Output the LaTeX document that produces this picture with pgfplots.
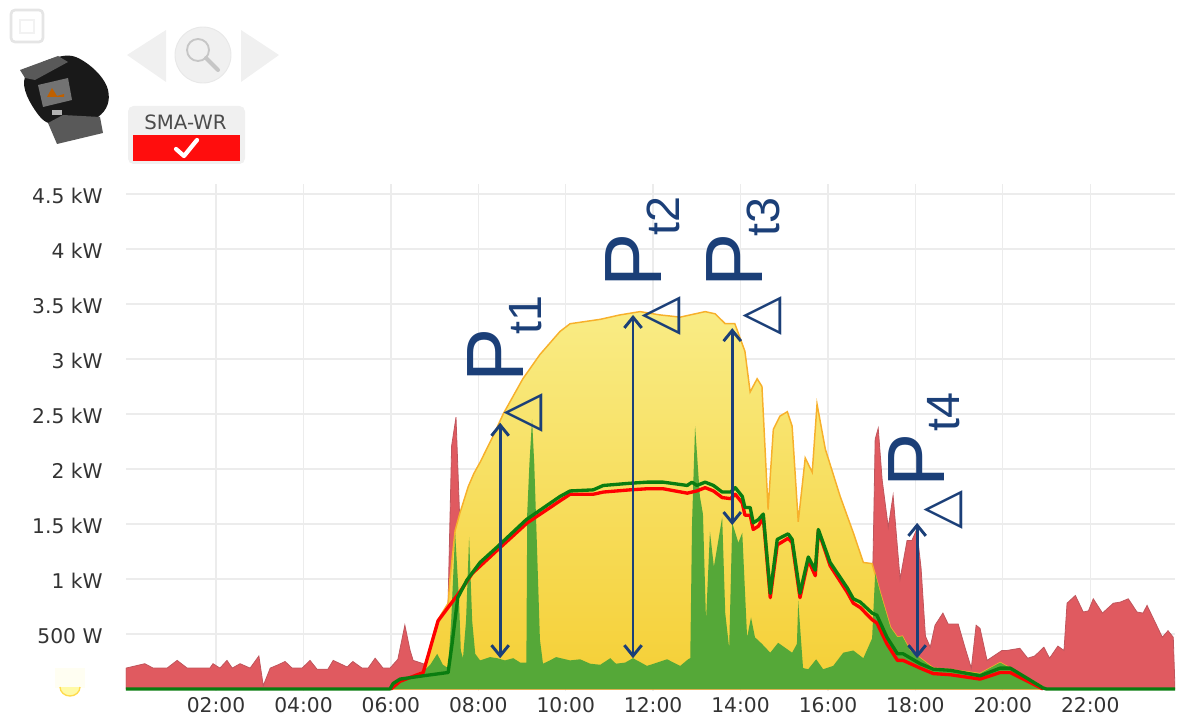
\documentclass[border=0pt]{standalone}
\usepackage{fontspec}
\usepackage{pgfplots}
\pgfplotsset{compat=1.18}
\usepackage{pgfplotstable}
\usetikzlibrary{arrows.meta}
\setmainfont{DejaVu Sans}
\newfontfamily\arialf{Liberation Sans}
\definecolor{navy}{HTML}{1B3F78}
\definecolor{gridc}{HTML}{ECECEC}
\definecolor{redarea}{HTML}{E05A60}
\definecolor{rededge}{HTML}{C0555C}
\definecolor{yellowtop}{HTML}{F9EC85}
\definecolor{yellowbot}{HTML}{F5CF35}
\definecolor{orangeline}{HTML}{F7B02B}
\definecolor{greenarea}{HTML}{55A838}
\definecolor{greenline}{HTML}{0A7D10}
\definecolor{ticktext}{HTML}{333333}

% consumption (kW)
\pgfplotstableread{
h kw
-0.06 0
-0.06 0.19
0.37 0.23
0.56 0.19
0.88 0.19
1.11 0.26
1.34 0.19
1.86 0.19
1.93 0.23
2.09 0.19
2.25 0.26
2.37 0.19
2.55 0.23
2.78 0.19
2.98 0.30
3.08 0.03
3.24 0.19
3.42 0.22
3.58 0.25
3.74 0.19
3.97 0.19
4.15 0.26
4.31 0.18
4.56 0.18
4.68 0.26
5.00 0.20
5.13 0.25
5.34 0.19
5.48 0.19
5.64 0.28
5.82 0.19
5.98 0.19
6.16 0.27
6.32 0.58
6.44 0.35
6.51 0.26
6.74 0.23
7.00 0.10
7.20 0.35
7.31 0.80
7.39 2.21
7.49 2.47
7.57 1.60
7.70 0.30
16.90 0.30
17.03 1.17
17.05 1.59
17.08 2.27
17.15 2.37
17.24 1.90
17.38 1.47
17.49 1.76
17.65 1.00
17.81 1.35
17.92 1.35
18.03 1.45
18.13 1.10
18.23 0.48
18.34 0.38
18.45 0.58
18.63 0.69
18.75 0.59
18.98 0.59
19.14 0.37
19.28 0.19
19.39 0.58
19.48 0.55
19.64 0.26
19.98 0.35
20.09 0.35
20.39 0.37
20.57 0.28
20.73 0.30
20.94 0.38
21.07 0.28
21.26 0.39
21.40 0.35
21.47 0.78
21.66 0.85
21.84 0.70
21.96 0.71
22.07 0.82
22.28 0.69
22.53 0.78
22.69 0.79
22.87 0.82
23.07 0.70
23.21 0.69
23.30 0.76
23.65 0.47
23.78 0.53
23.90 0.47
23.94 0
}\consumption

% production (kW)
\pgfplotstableread{
h kw
6.00 0
6.21 0.06
6.74 0.16
7.06 0.62
7.31 0.78
7.35 0.99
7.47 1.44
7.58 1.60
7.77 1.84
7.90 1.96
8.04 2.06
8.34 2.30
8.57 2.50
9.02 2.82
9.41 3.04
9.87 3.25
10.10 3.32
10.79 3.36
11.24 3.40
11.70 3.43
12.16 3.40
12.62 3.38
13.19 3.43
13.42 3.41
13.65 3.32
13.87 3.32
14.10 3.07
14.22 2.70
14.38 2.82
14.49 2.75
14.63 1.63
14.75 2.36
14.90 2.48
15.07 2.52
15.18 2.39
15.32 1.52
15.48 2.10
15.64 1.97
15.75 2.59
15.94 2.18
16.28 1.75
16.58 1.42
16.81 1.15
17.01 1.14
17.20 0.87
17.43 0.56
17.59 0.47
17.70 0.48
17.88 0.35
18.41 0.19
18.73 0.18
19.48 0.14
19.94 0.24
20.17 0.19
20.92 0.02
20.99 0
}\production

% self consumption (kW)
\pgfplotstableread{
h kw
6.00 0
6.21 0.06
6.74 0.16
6.90 0.22
7.06 0.32
7.19 0.22
7.31 0.19
7.38 0.62
7.47 1.42
7.56 0.80
7.60 0.35
7.65 0.28
7.72 0.62
7.79 1.38
7.86 0.62
7.93 0.32
8.04 0.26
8.27 0.29
8.43 0.28
8.61 0.26
8.80 0.28
8.96 0.24
9.10 0.24
9.12 1.60
9.17 2.05
9.23 2.45
9.28 2.05
9.33 1.45
9.41 0.45
9.48 0.23
9.64 0.26
9.78 0.29
10.10 0.26
10.33 0.27
10.56 0.23
10.79 0.22
11.02 0.28
11.15 0.23
11.36 0.24
11.54 0.28
11.86 0.21
12.32 0.27
12.62 0.21
12.80 0.27
12.85 0.28
12.89 1.50
12.96 2.39
13.07 1.75
13.14 1.59
13.21 0.62
13.30 1.43
13.39 1.11
13.58 1.56
13.65 0.69
13.74 0.37
13.81 1.51
13.95 1.33
14.04 1.42
14.10 0.90
14.15 0.47
14.24 0.65
14.33 0.47
14.49 0.41
14.68 0.33
14.86 0.42
15.18 0.33
15.29 0.41
15.32 0.80
15.39 0.41
15.43 0.19
15.55 0.18
15.73 0.27
15.89 0.18
16.12 0.21
16.35 0.33
16.58 0.35
16.81 0.28
17.01 0.46
17.08 1.05
17.20 0.87
17.43 0.56
17.59 0.47
17.70 0.48
17.88 0.35
18.41 0.19
18.73 0.18
19.48 0.14
19.94 0.24
20.17 0.19
20.92 0.02
20.99 0
}\selfuse

% green line (kW)
\pgfplotstableread{
h kw
-0.06 0
5.98 0
6.05 0.05
6.21 0.09
6.74 0.12
7.31 0.15
7.40 0.41
7.53 0.83
7.74 0.99
8.04 1.15
8.43 1.29
9.10 1.54
9.87 1.75
10.10 1.80
10.63 1.81
10.86 1.85
11.47 1.87
11.86 1.88
12.23 1.88
12.78 1.85
12.89 1.88
13.00 1.85
13.19 1.88
13.38 1.85
13.58 1.79
13.77 1.79
13.88 1.83
14.04 1.75
14.10 1.65
14.22 1.65
14.29 1.51
14.41 1.54
14.52 1.59
14.68 0.87
14.84 1.36
15.09 1.41
15.18 1.36
15.36 0.87
15.55 1.20
15.71 1.08
15.78 1.45
16.05 1.15
16.44 0.92
16.58 0.82
16.74 0.79
17.01 0.69
17.12 0.67
17.35 0.47
17.59 0.32
17.72 0.32
18.11 0.23
18.41 0.18
18.80 0.17
19.48 0.12
19.94 0.19
20.17 0.19
20.92 0.01
21.00 0
23.94 0
}\greenln

% red line (kW)
\pgfplotstableread{
h kw
6.00 0
6.21 0.07
6.74 0.15
6.90 0.37
7.08 0.62
7.61 0.90
7.86 1.05
8.43 1.26
9.12 1.51
9.87 1.71
10.10 1.77
10.63 1.77
10.86 1.79
11.47 1.81
11.86 1.82
12.23 1.82
12.78 1.78
13.00 1.80
13.19 1.83
13.38 1.80
13.58 1.74
13.77 1.73
13.88 1.77
14.04 1.69
14.10 1.58
14.22 1.58
14.29 1.45
14.41 1.48
14.52 1.56
14.68 0.83
14.84 1.31
15.09 1.37
15.18 1.33
15.36 0.83
15.55 1.17
15.71 1.03
15.78 1.44
16.05 1.12
16.44 0.88
16.58 0.78
16.74 0.74
17.01 0.63
17.12 0.60
17.35 0.41
17.59 0.26
17.72 0.26
18.11 0.19
18.41 0.14
18.80 0.13
19.48 0.09
19.94 0.15
20.17 0.15
20.92 0
}\redln

\tikzset{dbl/.style={navy, line width=2.2pt, {Straight Barb[length=8pt,width=13pt,line width=2.2pt]}-{Straight Barb[length=8pt,width=13pt,line width=2.2pt]}}}

\begin{document}
\begin{tikzpicture}
\path (0pt,0pt) rectangle (883.5pt,-540pt);
\begin{axis}[
  at={(94.5pt,-518.4pt)}, anchor=south west,
  scale only axis, width=786.75pt, height=380.4pt,
  xmin=-0.06, xmax=23.94, ymin=-0.02, ymax=4.59,
  axis line style={draw=none}, tick style={draw=none},
  xtick={2,4,...,22},
  xticklabels={02:00,04:00,06:00,08:00,10:00,12:00,14:00,16:00,18:00,20:00,22:00},
  ytick={0.5,1,1.5,2,2.5,3,3.5,4,4.5},
  yticklabels={500 W,1 kW,1.5 kW,2 kW,2.5 kW,3 kW,3.5 kW,4 kW,4.5 kW},
  grid=major, grid style={gridc, line width=1pt},
  xticklabel style={font=\fontsize{15.2}{18}\selectfont, text=ticktext, yshift=-1pt},
  yticklabel style={font=\fontsize{15.2}{18}\selectfont, text=ticktext, xshift=-14pt, yshift=-1.5pt},
]
\addplot[fill=redarea, draw=rededge, line width=0.6pt] table[x=h,y=kw] {\consumption} \closedcycle;
\addplot[top color=yellowtop, bottom color=yellowbot, draw=orangeline, line width=1.1pt] table[x=h,y=kw] {\production} \closedcycle;
\addplot[fill=greenarea, draw=none] table[x=h,y=kw] {\selfuse} \closedcycle;
\addplot[draw=red, line width=2.5pt, line join=round] table[x=h,y=kw] {\redln};
\addplot[draw=greenline, line width=2.5pt, line join=round] table[x=h,y=kw] {\greenln};
\draw[dbl] (axis cs:8.5,2.42) -- (axis cs:8.5,0.28);
\draw[dbl] (axis cs:11.54,3.40) -- (axis cs:11.54,0.28);
\draw[dbl] (axis cs:13.81,3.28) -- (axis cs:13.81,1.49);
\draw[dbl] (axis cs:18.04,1.51) -- (axis cs:18.04,0.28);
\end{axis}
\begin{scope}[x=0.75pt,y=-0.75pt]
% delta P labels
\def\dP#1#2#3#4#5#6#7{%
  \node[rotate=90,inner sep=0pt,text=navy,font=\arialf\fontsize{61}{61}\selectfont] at (#1,#2) {P};
  \node[rotate=90,inner sep=0pt,text=navy,font=\arialf\fontsize{35}{35}\selectfont] at (#3,#4) {#5};
  \node[rotate=90,inner sep=0pt,text=navy,font=\fontsize{38}{38}\selectfont] at (#6,#7) {△};
}
\dP{496}{355}{526}{315}{t1}{523}{413}
\dP{634}{260}{663}{216}{t2}{661}{316}
\dP{735}{260}{763}{217}{t3}{762}{316}
\dP{917}{460}{944}{412}{t4}{943}{510}
% top-left square
\draw[draw=gray!20, line width=2pt, rounded corners=3pt, fill=white] (11,10) rectangle (43,42);
\draw[draw=gray!10, line width=1pt] (20,20) rectangle (34,33);
% device
\fill[black!90] plot[smooth cycle, tension=0.7] coordinates {(25,77) (58,57) (85,62) (108,90) (98,117) (60,125) (37,113)};
\fill[black!65] (20,70) -- (58,56) -- (68,62) -- (35,80) -- (25,78) -- cycle;
\fill[black!65] (48,123) -- (63,115) -- (100,117) -- (103,133) -- (57,144) -- cycle;
\fill[black!55] (38,85) -- (68,78) -- (72,100) -- (43,107) -- cycle;
\fill[orange!75!black] (47,97) -- (52,88) -- (57,96) -- (64,94) -- (64,97) -- cycle;
\fill[black!30] (52,110) rectangle (62,115);
% nav
\fill[gray!12] (127,55) -- (166,30) -- (166,82) -- cycle;
\fill[gray!12] (241,30) -- (279,55) -- (241,82) -- cycle;
\draw[fill=gray!12, draw=gray!18, line width=0.7pt] (203,55) circle (28);
\draw[gray!45, line width=1.4pt] (198,50) circle (11);
\draw[gray!45, line width=3pt, line cap=round] (206,58) -- (218,70);
% button
\fill[gray!12, rounded corners=4pt] (128,106) rectangle (245,164);
\node[inner sep=0pt, text=black!70, font=\fontsize{14.8}{16}\selectfont] at (185.5,122) {SMA-WR};
\fill[red!95] (133,135) rectangle (240,161);
\draw[white, line width=3.2pt, line cap=round, line join=round] (176,149) -- (184,156) -- (197,140);
% sun
\fill[yellow!5] (55,668) rectangle (85,688);
\fill[yellow!35!white] (60,687) arc (180:0:10 and 9) -- cycle;
\draw[orange!40!yellow!70!white, line width=1pt] (60,687) arc (180:0:10 and 9);
\end{scope}
\end{tikzpicture}
\end{document}
